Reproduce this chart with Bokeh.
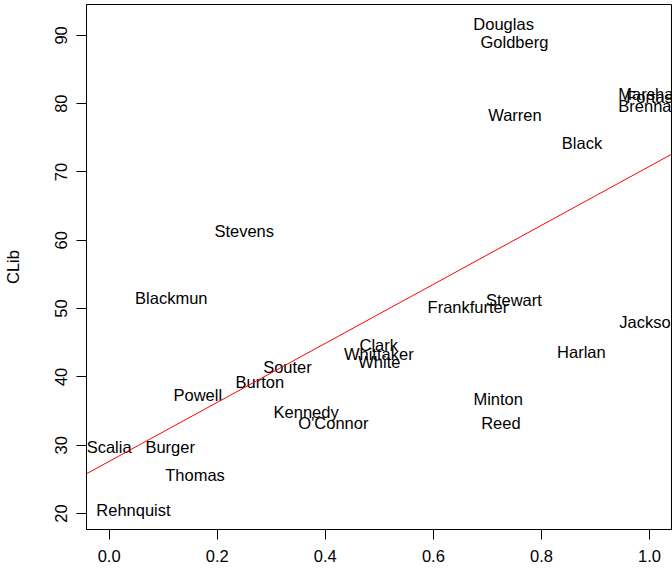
from bokeh.plotting import figure
from bokeh.models import ColumnDataSource, FixedTicker, Slope
from bokeh.core.properties import value
from bokeh.embed import file_html
from bokeh.resources import INLINE

# Data: justices, x value, CLib value
justices = ["Douglas", "Goldberg", "Marshall", "Fortas", "Brennan", "Warren", "Black",
            "Stevens", "Blackmun", "Stewart", "Frankfurter", "Jackson", "Harlan",
            "Clark", "Whittaker", "White", "Souter", "Burton", "Powell", "Minton",
            "Kennedy", "O'Connor", "Reed", "Scalia", "Burger", "Thomas", "Rehnquist"]
x_vals = [0.730, 0.750, 1.000, 1.000, 1.000, 0.751, 0.875,
          0.250, 0.115, 0.749, 0.664, 1.000, 0.874,
          0.499, 0.499, 0.500, 0.330, 0.279, 0.164, 0.720,
          0.3645, 0.415, 0.725, 0.000, 0.113, 0.159, 0.045]
clib = [91.7, 89.0, 81.35, 80.95, 79.6, 78.4, 74.2,
        61.3, 51.5, 51.2, 50.2, 48.1, 43.7,
        44.6, 43.3, 42.25, 41.5, 39.2, 37.4, 36.8,
        34.8, 33.3, 33.3, 29.7, 29.7, 25.7, 20.5]

fit_intercept = 27.63
fit_slope = 43.2

x_ticks = [0.0, 0.2, 0.4, 0.6, 0.8, 1.0]
x_tick_labels = ["0.0", "0.2", "0.4", "0.6", "0.8", "1.0"]
y_ticks = [20, 30, 40, 50, 60, 70, 80, 90]
y_tick_labels = ["20", "30", "40", "50", "60", "70", "80", "90"]

FONT = "Liberation Sans"
FS = "16.5px"

p = figure(width=672, height=568, x_range=(-0.0419, 1.0407), y_range=(17.657, 94.52),
           output_backend="svg", toolbar_location=None,
           min_border_left=85, min_border_right=1, min_border_top=4, min_border_bottom=39)

p.background_fill_color = "white"
p.border_fill_color = "white"
p.outline_line_color = "black"
p.outline_line_width = 1
p.xgrid.visible = False
p.ygrid.visible = False

src = ColumnDataSource(dict(x=x_vals, y=clib, name=justices))
p.text(x="x", y="y", text="name", source=src, text_align="center", text_baseline="middle",
       text_font=value(FONT), text_font_size=value(FS), text_color="black")

p.add_layout(Slope(gradient=fit_slope, y_intercept=fit_intercept, line_color="red", line_width=1))

for ax in (p.xaxis[0], p.yaxis[0]):
    ax.axis_line_color = "black"
    ax.major_tick_line_color = "black"
    ax.major_tick_out = 10
    ax.major_tick_in = 0
    ax.minor_tick_line_color = None
    ax.major_label_text_font = FONT
    ax.major_label_text_font_size = FS
    ax.major_label_text_color = "black"
    ax.axis_label_text_font = FONT
    ax.axis_label_text_font_size = FS
    ax.axis_label_text_font_style = "normal"
    ax.axis_label_text_color = "black"

p.xaxis.ticker = FixedTicker(ticks=x_ticks)
p.xaxis.major_label_overrides = {t: l for t, l in zip(x_ticks, x_tick_labels)}
p.xaxis.major_label_standoff = 10

p.yaxis.ticker = FixedTicker(ticks=y_ticks)
p.yaxis.major_label_overrides = {t: l for t, l in zip(y_ticks, y_tick_labels)}
p.yaxis.major_label_orientation = "vertical"
p.yaxis.major_label_standoff = 9
p.yaxis.axis_label = "CLib"
p.yaxis.axis_label_standoff = 31

open("out.html", "w").write(file_html(p, INLINE))
